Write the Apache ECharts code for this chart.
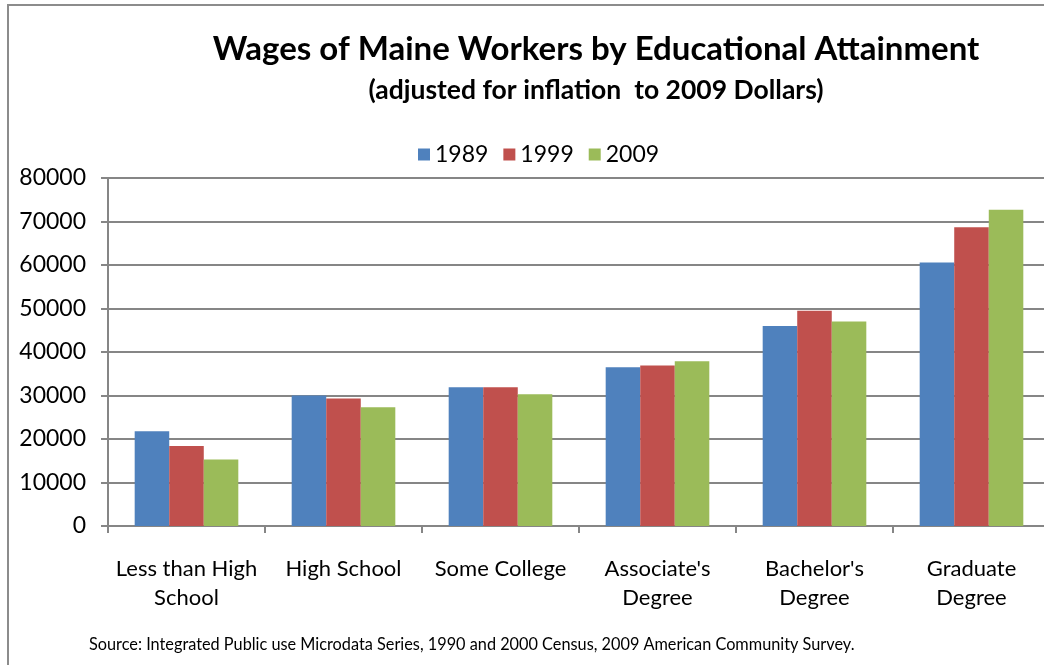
<!DOCTYPE html>
<html>
<head>
<meta charset="utf-8">
<script src="https://cdn.jsdelivr.net/npm/echarts@6/dist/echarts.min.js"></script>
<style>html,body{margin:0;padding:0;background:#fff;overflow:hidden;}#c{width:1044px;height:665px;}</style>
</head>
<body>
<div id="c"></div>
<script>
const categories = ["Less than High\nSchool", "High School", "Some College", "Associate's\nDegree", "Bachelor's\nDegree", "Graduate\nDegree"];
const seriesNames = ["1989", "1999", "2009"];
const values1989 = [21800, 30000, 31900, 36500, 46000, 60600];
const values1999 = [18400, 29300, 31900, 36900, 49500, 68700];
const values2009 = [15300, 27300, 30300, 37900, 47000, 72700];
const yTicks = [0, 10000, 20000, 30000, 40000, 50000, 60000, 70000, 80000];
const colors = ["#4F81BD", "#C0504D", "#9BBB59"];
const FONT = "Lato";

const chart = echarts.init(document.getElementById('c'), null, {renderer: 'canvas'});
const allValues = [values1989, values1999, values2009];
chart.setOption({
  animation: false,
  backgroundColor: '#fff',
  title: [
    {text: 'Wages of Maine Workers by Educational Attainment', left: 591, top: 28, textAlign: 'center',
     textStyle: {fontFamily: FONT, fontWeight: 'bold', fontSize: 33, color: '#000'}},
    {text: '(adjusted for inflation  to 2009 Dollars)', left: 591, top: 72, textAlign: 'center',
     textStyle: {fontFamily: FONT, fontWeight: 'bold', fontSize: 26.5, color: '#000'}}
  ],
  legend: {
    data: seriesNames, left: 413, top: 138, itemWidth: 12, itemHeight: 12, itemGap: 15,
    icon: 'rect',
    textStyle: {fontFamily: FONT, fontSize: 23, color: '#000', padding: [0, 0, 0, 0]}
  },
  grid: {left: 108, width: 942, top: 178, bottom: 139, containLabel: false, outerBoundsMode: 'none'},
  xAxis: {
    type: 'category', data: categories,
    axisLine: {lineStyle: {color: '#868686', width: 2}},
    axisTick: {show: true, length: 7, lineStyle: {color: '#868686', width: 2}},
    axisLabel: {fontFamily: FONT, fontSize: 22, color: '#000', margin: 28, lineHeight: 29, interval: 0}
  },
  yAxis: {
    type: 'value', min: 0, max: 80000, interval: 10000,
    axisLine: {show: true, lineStyle: {color: '#868686', width: 2}},
    axisTick: {show: true, length: 7, lineStyle: {color: '#868686', width: 2}},
    splitLine: {lineStyle: {color: '#868686', width: 2}},
    axisLabel: {fontFamily: FONT, fontSize: 23, color: '#000', margin: 22,
      formatter: v => yTicks.includes(v) ? String(v) : ''}
  },
  series: seriesNames.map((n, i) => ({
    name: n, type: 'bar', data: allValues[i],
    itemStyle: {color: colors[i]},
    barGap: '0%', barCategoryGap: '34%'
  })),
  graphic: [
    {type: 'rect', shape: {x: 8, y: 5, width: 1100, height: 700}, style: {fill: 'none', stroke: '#8c8c8c', lineWidth: 2}, silent: true, z: -1},
    {type: 'text', left: 89, top: 637, style: {text: 'Source: Integrated Public use Microdata Series, 1990 and 2000 Census, 2009 American Community Survey.',
      fontFamily: FONT, fontSize: 16.3, fill: '#000'}}
  ]
});
</script>
</body>
</html>
